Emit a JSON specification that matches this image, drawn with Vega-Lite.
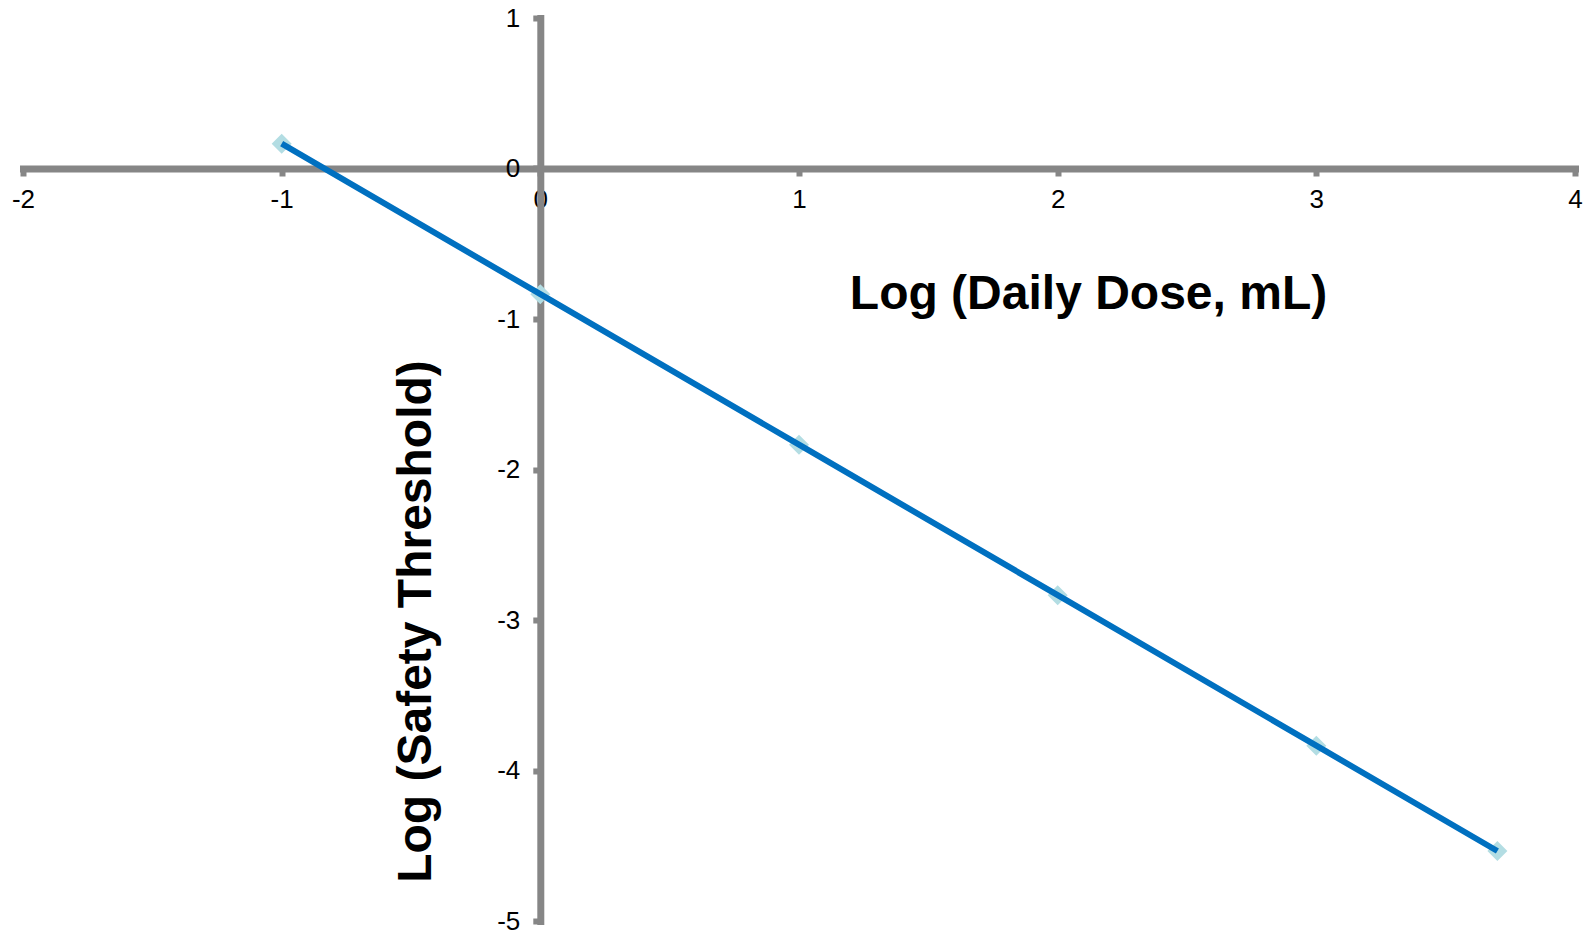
{
  "$schema": "https://vega.github.io/schema/vega-lite/v6.json",
  "width": 1552,
  "height": 903,
  "autosize": {"type": "none"},
  "padding": {"left": 23, "top": 18, "right": 17, "bottom": 10},
  "background": "white",
  "config": {"view": {"stroke": null}, "font": "Liberation Sans"},
  "data": {
    "values": [
      {"logDose": -1, "logThreshold": 0.165},
      {"logDose": 0, "logThreshold": -0.835},
      {"logDose": 1, "logThreshold": -1.835},
      {"logDose": 2, "logThreshold": -2.835},
      {"logDose": 3, "logThreshold": -3.835},
      {"logDose": 3.7, "logThreshold": -4.535}
    ]
  },
  "encoding": {
    "x": {
      "field": "logDose",
      "type": "quantitative",
      "scale": {"domain": [-2, 4], "nice": false, "zero": false},
      "axis": {
        "title": "Log (Daily Dose, mL)",
        "orient": "bottom",
        "offset": -752.5,
        "values": [-2, -1, 0, 1, 2, 3, 4],
        "labelExpr": "'' + datum.value",
        "grid": false,
        "domainColor": "#868686",
        "domainWidth": 7,
        "domainCap": "square",
        "tickColor": "#868686",
        "tickWidth": 6,
        "tickSize": 7.5,
        "labelFont": "Liberation Sans",
        "labelFontSize": 26,
        "labelColor": "black",
        "labelPadding": 10,
        "labelFlush": false,
        "labelOverlap": false,
        "titleFont": "Liberation Sans",
        "titleFontSize": 48,
        "titleFontWeight": "bold",
        "titleColor": "black",
        "titleX": 1065,
        "titleY": 126,
        "titleAlign": "center",
        "titleBaseline": "middle"
      }
    },
    "y": {
      "field": "logThreshold",
      "type": "quantitative",
      "scale": {"domain": [-5, 1], "nice": false, "zero": false},
      "axis": {
        "title": "Log (Safety Threshold)",
        "orient": "left",
        "offset": -517.3,
        "values": [-5, -4, -3, -2, -1, 0, 1],
        "labelExpr": "'' + datum.value",
        "grid": false,
        "domainColor": "#868686",
        "domainWidth": 7,
        "domainCap": "square",
        "tickColor": "#868686",
        "tickWidth": 6,
        "tickSize": 7.5,
        "labelFont": "Liberation Sans",
        "labelFontSize": 26,
        "labelColor": "black",
        "labelPadding": 13,
        "labelFlush": false,
        "labelOverlap": false,
        "titleFont": "Liberation Sans",
        "titleFontSize": 48,
        "titleFontWeight": "bold",
        "titleColor": "black",
        "titleAngle": 270,
        "titleX": -124,
        "titleY": 603,
        "titleAlign": "center",
        "titleBaseline": "middle"
      }
    }
  },
  "layer": [
    {
      "mark": {"type": "point", "shape": "diamond", "filled": true, "size": 400, "color": "#B3DDE3", "opacity": 1}
    },
    {
      "mark": {"type": "line", "color": "#0070C0", "strokeWidth": 6}
    }
  ]
}
